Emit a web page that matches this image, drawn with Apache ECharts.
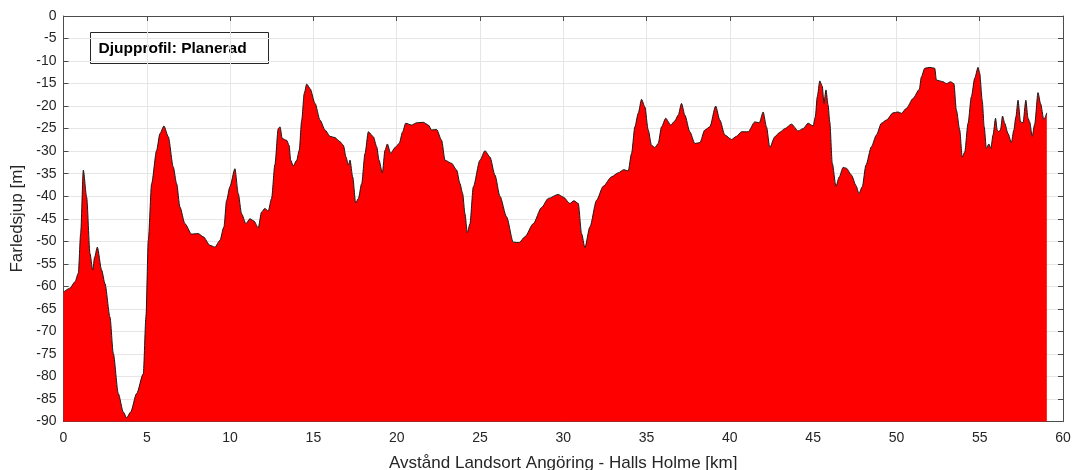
<!DOCTYPE html>
<html>
<head>
<meta charset="utf-8">
<script src="https://cdn.jsdelivr.net/npm/echarts@6/dist/echarts.min.js"></script>
<style>
  html, body { margin: 0; padding: 0; background: #fff; }
  #chart { width: 1072px; height: 470px; }
</style>
</head>
<body>
<div id="chart"></div>
<script>
// Distance along the fairway [km]
const distanceKm = [
  0, 0.39, 0.69, 0.89, 1.03, 1.19, 1.39, 1.59, 1.75, 1.87, 2.03, 2.29, 2.49, 2.79, 2.99,
  3.29, 3.59, 3.79, 4.03, 4.39, 4.79, 4.95, 5.09, 5.29, 5.59, 5.79, 6.03, 6.29, 6.59, 6.79,
  6.99, 7.29, 7.69, 8.09, 8.39, 8.79, 9.09, 9.39, 9.63, 9.79, 9.99, 10.29, 10.49, 10.69, 10.95,
  11.19, 11.43, 11.69, 11.89, 12.09, 12.29, 12.49, 12.69, 12.89, 13.0, 13.13, 13.4, 13.54, 13.64, 13.79,
  14.0, 14.15, 14.3, 14.45, 14.6, 14.8, 15.1, 15.4, 15.7, 16.0, 16.3, 16.6, 16.8, 16.96, 17.1,
  17.2, 17.36, 17.54, 17.7, 17.9, 18.1, 18.3, 18.6, 18.8, 18.94, 19.14, 19.3, 19.44, 19.64, 19.9,
  20.15, 20.36, 20.54, 20.9, 21.2, 21.6, 21.9, 22.1, 22.4, 22.7, 22.9, 23.3, 23.6, 23.8, 23.96,
  24.1, 24.24, 24.4, 24.6, 25.0, 25.3, 25.6, 25.9, 26.2, 26.6, 27.0, 27.35, 27.7, 28.2, 28.7,
  29.1, 29.7, 30.0, 30.4, 30.64, 30.9, 31.1, 31.3, 31.6, 32.0, 32.4, 32.9, 33.3, 33.64, 33.9,
  34.1, 34.3, 34.5, 34.7, 34.9, 35.1, 35.3, 35.5, 35.7, 35.9, 36.15, 36.45, 36.7, 36.9, 37.1,
  37.3, 37.6, 37.9, 38.2, 38.5, 38.8, 39.15, 39.4, 39.7, 40.1, 40.4, 40.7, 41.1, 41.5, 41.77,
  42.0, 42.2, 42.4, 42.7, 43.0, 43.3, 43.7, 44.1, 44.4, 44.7, 45.0, 45.13, 45.25, 45.4, 45.55,
  45.65, 45.77, 45.9, 46.0, 46.15, 46.37, 46.57, 46.8, 47.0, 47.3, 47.57, 47.75, 47.95, 48.17, 48.5,
  48.8, 49.1, 49.4, 49.8, 50.1, 50.3, 50.6, 51.0, 51.37, 51.5, 51.7, 52.0, 52.3, 52.4, 52.6,
  52.8, 53.0, 53.25, 53.45, 53.6, 53.8, 53.95, 54.1, 54.3, 54.5, 54.7, 54.9, 55.0, 55.15, 55.27,
  55.4, 55.55, 55.67, 55.8, 55.95, 56.05, 56.15, 56.25, 56.37, 56.5, 56.7, 56.9, 57.05, 57.17, 57.3,
  57.45, 57.6, 57.77, 57.9, 58.0, 58.15, 58.3, 58.5, 58.65, 58.85, 59.03
];

// Planned fairway depth [m]
const depthM = [
  -61.3, -60.4, -59.0, -57.1, -48.3, -34.2, -40.2, -52.7, -56.4, -53.5, -51.3, -56.4, -59.4, -66.8, -74.9,
  -83.8, -87.9, -89.2, -87.9, -83.8, -79.4, -66.8, -49.8, -37.2, -29.8, -26.1, -24.4, -26.8, -33.5, -37.2,
  -42.4, -46.1, -48.4, -48.3, -49.0, -50.9, -51.3, -49.8, -46.8, -40.9, -37.9, -33.9, -39.4, -43.9, -46.1,
  -45.0, -45.5, -47.0, -43.5, -42.7, -43.3, -40.5, -33.0, -25.0, -24.6, -27.2, -27.6, -28.7, -32.0, -33.3,
  -32.0, -29.8, -23.1, -17.2, -15.1, -16.1, -19.4, -23.1, -25.3, -26.7, -27.0, -27.9, -28.7, -31.3, -33.1,
  -32.0, -35.7, -41.5, -40.5, -37.2, -30.5, -25.7, -26.8, -29.0, -32.0, -34.8, -29.8, -28.4, -30.5, -29.2,
  -28.3, -25.7, -23.8, -24.2, -23.7, -23.6, -24.2, -25.3, -25.2, -27.6, -32.0, -32.7, -34.2, -37.2, -39.4,
  -43.9, -48.1, -46.1, -37.9, -32.0, -29.9, -31.3, -35.3, -40.0, -44.6, -50.2, -50.3, -49.0, -46.1, -42.5,
  -40.5, -39.6, -40.2, -41.6, -41.0, -41.6, -48.3, -51.4, -46.8, -40.9, -37.8, -35.7, -34.8, -34.1, -34.4,
  -30.5, -24.6, -21.6, -18.5, -20.2, -25.3, -28.7, -29.2, -28.3, -24.6, -22.7, -24.2, -23.3, -22.0, -19.4,
  -22.0, -25.7, -28.3, -28.1, -25.3, -24.6, -20.0, -23.1, -26.4, -27.4, -26.7, -25.7, -25.7, -23.5, -23.7,
  -21.3, -24.6, -29.2, -26.8, -25.8, -25.0, -24.0, -25.5, -25.0, -23.8, -24.4, -22.4, -17.9, -14.4, -15.6,
  -19.4, -16.4, -19.8, -23.5, -32.7, -37.8, -35.7, -33.6, -33.8, -35.3, -37.6, -39.4, -37.9, -33.1, -29.0,
  -26.4, -23.8, -23.1, -21.5, -21.3, -21.6, -20.5, -18.3, -16.3, -13.5, -11.6, -11.4, -11.6, -14.2, -14.4,
  -14.6, -15.0, -14.6, -15.0, -20.9, -25.3, -31.3, -30.2, -23.8, -17.9, -13.8, -11.4, -12.7, -18.7, -24.6,
  -29.4, -28.4, -29.4, -26.4, -22.7, -25.3, -25.7, -25.2, -22.2, -23.8, -26.1, -28.1, -25.3, -22.4, -18.7,
  -23.5, -23.7, -18.7, -22.7, -23.5, -26.7, -24.0, -17.0, -19.4, -23.0, -21.5
];

// Axis ranges and tick spacing
const xRange = [0, 60];
const yRange = [-90, 0];
const tickStep = 5;

const legendText = 'Djupprofil: Planerad';
const xTitle = 'Avstånd Landsort Angöring - Halls Holme [km]';
const yTitle = 'Farledsjup [m]';

const profile = distanceKm.map((d, i) => [d, depthM[i]]);

const FONT = 'Liberation Sans, Arial, Helvetica, sans-serif';
const axisColor = '#4d4d4d';
const labelColor = '#262626';
const gridColor = '#e6e6e6';

const chart = echarts.init(document.getElementById('chart'), null, { renderer: 'canvas' });

const baseAxis = {
  type: 'value',
  interval: tickStep,
  axisLine: { show: true, onZero: false, lineStyle: { color: axisColor, width: 1 } },
  axisTick: { show: true, inside: true, length: 5, lineStyle: { color: axisColor, width: 1 } },
  splitLine: { show: false }
};

chart.setOption({
  animation: false,
  backgroundColor: '#ffffff',
  grid: {
    left: 63.5, right: 9, top: 16, bottom: 48.5,
    containLabel: false,
    outerBoundsMode: 'none'
  },
  xAxis: [
    Object.assign({}, baseAxis, {
      position: 'bottom',
      min: xRange[0], max: xRange[1],
      name: xTitle,
      nameLocation: 'middle',
      nameGap: 33,
      nameTextStyle: { fontFamily: FONT, fontSize: 17, color: labelColor },
      axisLabel: { fontFamily: FONT, fontSize: 14, color: labelColor, margin: 10 },
      splitLine: { show: true, lineStyle: { color: gridColor, width: 1 } }
    }),
    Object.assign({}, baseAxis, {
      position: 'top',
      min: xRange[0], max: xRange[1],
      axisLabel: { show: false }
    })
  ],
  yAxis: [
    Object.assign({}, baseAxis, {
      position: 'left',
      min: yRange[0], max: yRange[1],
      name: yTitle,
      nameLocation: 'middle',
      nameGap: 31,
      nameRotate: 90,
      nameTextStyle: { fontFamily: FONT, fontSize: 17, color: labelColor },
      axisLabel: { fontFamily: FONT, fontSize: 14, color: labelColor, margin: 7 },
      splitLine: { show: true, lineStyle: { color: gridColor, width: 1 } }
    }),
    Object.assign({}, baseAxis, {
      position: 'right',
      min: yRange[0], max: yRange[1],
      axisLabel: { show: false }
    })
  ],
  graphic: [
    {
      type: 'group',
      left: 90,
      top: 32,
      z: 100,
      children: [
        {
          type: 'rect',
          shape: { x: 0, y: 0, width: 178, height: 31 },
          style: { fill: '#ffffff', stroke: '#262626', lineWidth: 1 }
        },
        {
          type: 'text',
          x: 8,
          y: 16,
          style: {
            text: legendText,
            font: 'bold 15.5px ' + FONT,
            fill: '#000000',
            verticalAlign: 'middle'
          }
        }
      ]
    }
  ],
  series: [
    {
      type: 'line',
      xAxisIndex: 0,
      yAxisIndex: 0,
      data: profile,
      showSymbol: false,
      smooth: 0.25,
      smoothMonotone: 'x',
      lineStyle: { color: '#1a1a1a', width: 1 },
      areaStyle: { color: '#ff0000', opacity: 1, origin: 'start' },
      z: 3
    }
  ]
});
</script>
</body>
</html>
